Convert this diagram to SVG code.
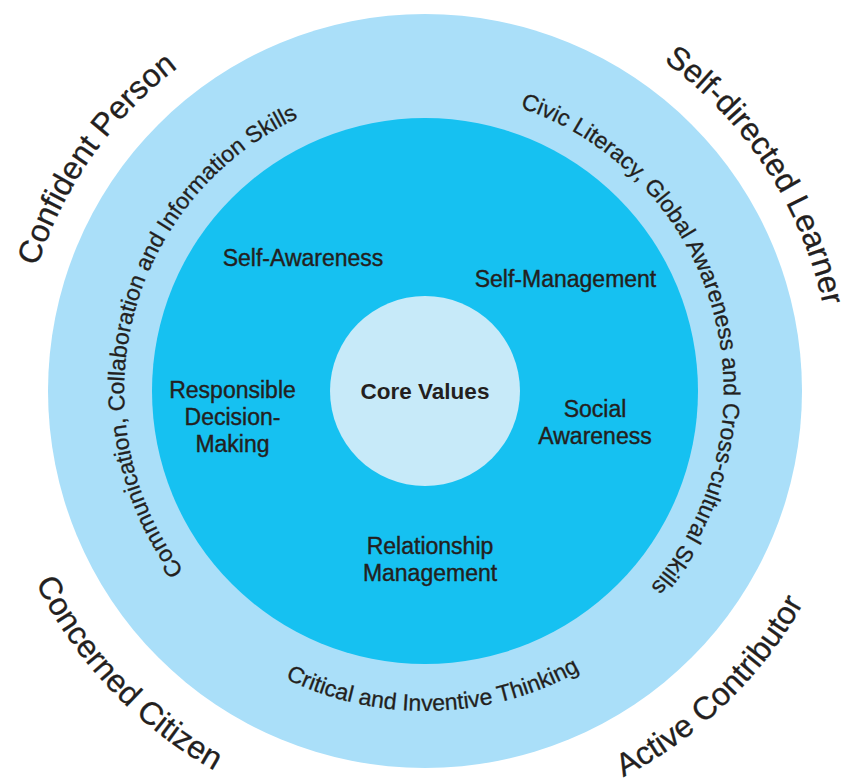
<svg xmlns="http://www.w3.org/2000/svg" xmlns:xlink="http://www.w3.org/1999/xlink" width="844" height="782" viewBox="0 0 844 782">
  <style>
    text { font-family: "Liberation Sans", Arial, Helvetica, sans-serif; fill: #231F20; }
    .lbl { font-size: 23px; text-anchor: middle; stroke: #231F20; stroke-width: 0.4px; }
    .core { font-size: 22.5px; font-weight: bold; text-anchor: middle; }
    .ring { font-size: 23px; stroke: #231F20; stroke-width: 0.3px; }
    .outer { font-size: 32px; stroke: #231F20; stroke-width: 0.3px; }
  </style>
  <defs>
    <path id="pComm" d="M301.6,665.5 A301,301 0 0 1 447.0,90.8" fill="none"/>
    <path id="pCivic" d="M397.6,93.3 A299,299 0 0 1 552.5,661.4" fill="none"/>
    <path id="pCrit" d="M111.5,455.1 A320,320 0 0 0 741.5,438.0" fill="none"/>
    <path id="pConf" d="M21.2,340.0 A407,407 0 0 1 241.5,27.7" fill="none"/>
    <path id="pSelf" d="M646.1,49.3 A407,407 0 0 1 826.9,326.6" fill="none"/>
    <path id="pConc" d="M21.5,550.8 A434,434 0 0 0 245.7,786.2" fill="none"/>
    <path id="pAct" d="M379.3,822.6 A434,434 0 0 0 858.0,361.1" fill="none"/>
  </defs>

  <g id="ring-outer">
    <circle cx="425" cy="391" r="377" fill="#AADFF9"/>
  </g>
  <g id="ring-middle">
    <circle cx="425" cy="391" r="273" fill="#16C1F1"/>
  </g>
  <g id="core">
    <circle cx="425" cy="391" r="95" fill="#C7EAF9"/>
    <text class="core" x="425" y="399">Core Values</text>
  </g>

  <g id="self-awareness"><text class="lbl" x="303" y="266">Self-Awareness</text></g>
  <g id="self-management"><text class="lbl" x="565.5" y="287">Self-Management</text></g>
  <g id="responsible-decision-making">
    <text class="lbl" x="232.5" y="398">Responsible<tspan x="232.5" y="425">Decision-</tspan><tspan x="232.5" y="451.5">Making</tspan></text>
  </g>
  <g id="social-awareness">
    <text class="lbl" x="595" y="417">Social<tspan x="595" y="443.5">Awareness</tspan></text>
  </g>
  <g id="relationship-management">
    <text class="lbl" x="430" y="554">Relationship<tspan x="430" y="581">Management</tspan></text>
  </g>

  <g id="communication">
    <text class="ring"><textPath xlink:href="#pComm" href="#pComm" startOffset="50%" text-anchor="middle">Communication, Collaboration and Information Skills</textPath></text>
  </g>
  <g id="civic">
    <text class="ring"><textPath xlink:href="#pCivic" href="#pCivic" startOffset="50%" text-anchor="middle">Civic Literacy, Global Awareness and Cross-cultural Skills</textPath></text>
  </g>
  <g id="critical">
    <text class="ring"><textPath xlink:href="#pCrit" href="#pCrit" startOffset="50%" text-anchor="middle">Critical and Inventive Thinking</textPath></text>
  </g>

  <g id="confident-person">
    <text class="outer"><textPath xlink:href="#pConf" href="#pConf" startOffset="50%" text-anchor="middle">Confident Person</textPath></text>
  </g>
  <g id="self-directed-learner">
    <text class="outer"><textPath xlink:href="#pSelf" href="#pSelf" startOffset="50%" text-anchor="middle">Self-directed Learner</textPath></text>
  </g>
  <g id="concerned-citizen">
    <text class="outer"><textPath xlink:href="#pConc" href="#pConc" startOffset="50%" text-anchor="middle">Concerned Citizen</textPath></text>
  </g>
  <g id="active-contributor">
    <text class="outer"><textPath xlink:href="#pAct" href="#pAct" startOffset="50%" text-anchor="middle">Active Contributor</textPath></text>
  </g>
</svg>
